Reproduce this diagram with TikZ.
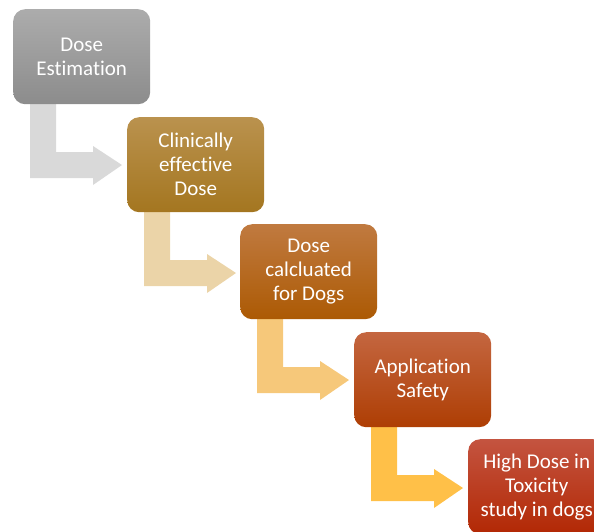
\documentclass[tikz,border=0pt]{standalone}
\usepackage{fontspec}
\setmainfont[Ligatures={NoCommon}]{Carlito}
\usetikzlibrary{calc}
\definecolor{gA}{RGB}{172,172,172}\definecolor{gB}{RGB}{140,140,140}
\definecolor{oA}{RGB}{186,146,78}\definecolor{oB}{RGB}{164,118,32}
\definecolor{bA}{RGB}{192,122,64}\definecolor{bB}{RGB}{172,90,4}
\definecolor{rA}{RGB}{196,102,64}\definecolor{rB}{RGB}{174,62,4}
\definecolor{dA}{RGB}{196,84,64}\definecolor{dB}{RGB}{178,40,4}
\definecolor{arA}{RGB}{217,217,217}
\definecolor{arB}{RGB}{235,212,168}
\definecolor{arC}{RGB}{246,200,122}
\definecolor{arD}{RGB}{255,192,72}
\tikzset{
  stepbox/.style={rounded corners=12pt, minimum width=137pt, minimum height=95pt,
    inner sep=0pt, align=center, text=white, font=\fontsize{21}{24}\selectfont, anchor=north west},
}
\newcommand{\bentarrow}[2]{%
  \fill[#2] ($(#1.south west)+(17,-2)$) -- ($(#1.south west)+(43,-2)$) -- ($(#1.south west)+(43,48)$)
    -- ($(#1.south west)+(80,48)$) -- ($(#1.south west)+(80,42)$) -- ($(#1.south west)+(109,61)$)
    -- ($(#1.south west)+(80,81)$) -- ($(#1.south west)+(80,74)$) -- ($(#1.south west)+(17,74)$) -- cycle;}
\begin{document}
\begin{tikzpicture}[x=1pt,y=-1pt]
\useasboundingbox (0,0) rectangle (594,531);
\clip (0,0) rectangle (594,531);
\path (13,9) coordinate (p1) (127,117) coordinate (p2) (240,224) coordinate (p3)
      (354,332) coordinate (p4) (468,439) coordinate (p5);
\path (p1) ++(0,95) coordinate (s1) (p2) ++(0,95) coordinate (s2)
      (p3) ++(0,95) coordinate (s3) (p4) ++(0,95) coordinate (s4);
\bentarrow{s1}{arA}
\bentarrow{s2}{arB}
\bentarrow{s3}{arC}
\bentarrow{s4}{arD}
\node[stepbox, top color=gA, bottom color=gB] (b1) at (p1) {Dose\\Estimation};
\node[stepbox, top color=oA, bottom color=oB] (b2) at (p2) {Clinically\\effective\\Dose};
\node[stepbox, top color=bA, bottom color=bB] (b3) at (p3) {Dose\\calcluated\\for Dogs};
\node[stepbox, top color=rA, bottom color=rB] (b4) at (p4) {Application\\Safety};
\node[stepbox, top color=dA, bottom color=dB] (b5) at (p5) {High Dose in\\Toxicity\\study in dogs};
\end{tikzpicture}
\end{document}
